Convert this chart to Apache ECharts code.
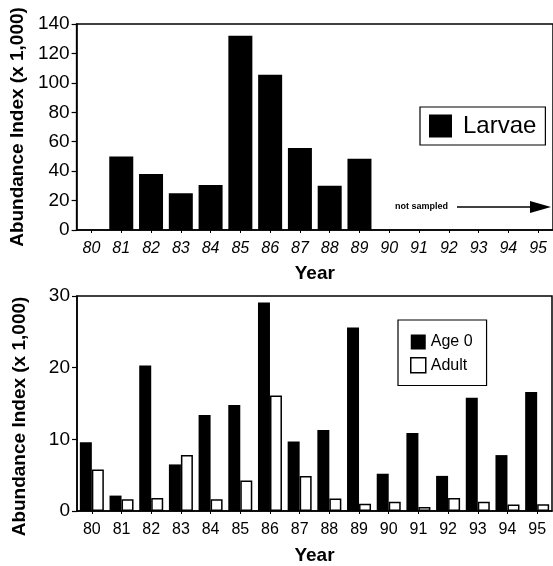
<!DOCTYPE html>
<html>
<head>
<meta charset="utf-8">
<script src="https://cdn.jsdelivr.net/npm/echarts@6/dist/echarts.min.js"></script>
<style>
html,body{margin:0;padding:0;background:#fff;}
#c{width:553px;height:566px;}
</style>
</head>
<body>
<div id="c"></div>
<script>
// ---- data ----
const years = ['80','81','82','83','84','85','86','87','88','89','90','91','92','93','94','95'];
const larvae = [null, 50, 38, 25, 30.5, 132, 105.5, 55.7, 30, 48.5, null, null, null, null, null, null];
const age0 = [9.6, 2.15, 20.3, 6.5, 13.4, 14.8, 29.1, 9.7, 11.3, 25.6, 5.2, 10.9, 4.9, 15.8, 7.8, 16.6];
const adult = [5.8, 1.65, 1.8, 7.8, 1.65, 4.25, 16.1, 4.9, 1.75, 1.0, 1.3, 0.55, 1.8, 1.3, 0.9, 0.95];
const topTicks = [0, 20, 40, 60, 80, 100, 120, 140];
const bottomTicks = [0, 10, 20, 30];

const FONT = '"Liberation Sans", Arial, Helvetica, sans-serif';
const chart = echarts.init(document.getElementById('c'), null, {renderer: 'canvas'});

function yAxisCfg(gridIndex, ticks, gap, pad) {
  return {
    type: 'value', gridIndex: gridIndex,
    min: ticks[0], max: ticks[ticks.length - 1], interval: ticks[1] - ticks[0],
    name: 'Abundance Index (x 1,000)', nameLocation: 'middle', nameGap: gap,
    nameTextStyle: {fontFamily: FONT, fontSize: 19, fontWeight: 'bold', color: '#000', padding: pad},
    axisLine: {show: true, lineStyle: {color: '#000', width: 1.5}},
    axisTick: {show: true, length: 5, inside: false, lineStyle: {color: '#000', width: 1.2}},
    axisLabel: {fontFamily: FONT, fontSize: 19, color: '#000', margin: 7},
    splitLine: {show: false}
  };
}
function xAxisCfg(gridIndex, italic, gap) {
  return {
    type: 'category', gridIndex: gridIndex, data: years,
    name: 'Year', nameLocation: 'middle', nameGap: gap,
    nameTextStyle: {fontFamily: FONT, fontSize: 19, fontWeight: 'bold', color: '#000'},
    axisLine: {show: true, lineStyle: {color: '#000', width: 1.5}},
    axisTick: {show: true, alignWithLabel: true, length: 3, lineStyle: {color: '#000', width: 1}},
    axisLabel: {fontFamily: FONT, fontSize: 16, color: '#000', margin: 11, interval: 0,
      fontStyle: italic ? 'italic' : 'normal'},
    splitLine: {show: false}
  };
}

chart.setOption({
  animation: false,
  backgroundColor: '#fff',
  grid: [
    {left: 74, top: 24, width: 482, height: 206, show: true, borderColor: '#000', borderWidth: 1.5, backgroundColor: 'transparent'},
    {left: 77, top: 296, width: 475, height: 218, show: true, borderColor: '#000', borderWidth: 1.5, backgroundColor: 'transparent'}
  ],
  xAxis: [xAxisCfg(0, true, 34), xAxisCfg(1, false, 35)],
  yAxis: [yAxisCfg(0, topTicks, 45, [0, 0, 0, 0]), yAxisCfg(1, bottomTicks, 48, [0, 26, 0, 0])],
  legend: [
    {
      data: ['Larvae'], left: 420, top: 107, orient: 'vertical',
      itemWidth: 23, itemHeight: 23, icon: 'rect',
      padding: [7, 9, 7, 9], borderColor: '#000', borderWidth: 1.2,
      textStyle: {fontFamily: FONT, fontSize: 24, color: '#000', padding: [0, 0, 0, 6]},
      selectedMode: false
    },
    {
      data: [
        {name: 'Age 0', icon: 'rect', itemStyle: {color: '#000', borderWidth: 0}},
        {name: 'Adult', icon: 'rect', itemStyle: {color: '#fff', borderColor: '#000', borderWidth: 1.5}}
      ],
      left: 398, top: 320, orient: 'vertical',
      itemWidth: 15, itemHeight: 15, itemGap: 7,
      padding: [14, 14, 12, 12], borderColor: '#000', borderWidth: 1.2,
      textStyle: {fontFamily: FONT, fontSize: 16, color: '#000', padding: [0, 0, 0, 0]},
      selectedMode: false
    }
  ],
  series: [
    {
      name: 'Larvae', type: 'bar', xAxisIndex: 0, yAxisIndex: 0, data: larvae,
      barWidth: 24, itemStyle: {color: '#000'}
    },
    {
      name: 'Age 0', type: 'bar', xAxisIndex: 1, yAxisIndex: 1, data: age0,
      barWidth: 12, barGap: '0%', itemStyle: {color: '#000'}
    },
    {
      name: 'Adult', type: 'bar', xAxisIndex: 1, yAxisIndex: 1, data: adult,
      barWidth: 12, barGap: '0%', itemStyle: {color: '#fff', borderColor: '#000', borderWidth: 1.5}
    }
  ],
  graphic: [
    {
      type: 'text', left: 395, top: 202,
      style: {text: 'not sampled', fontFamily: FONT, fontSize: 9, fontWeight: 'bold', fill: '#000'}
    },
    {
      type: 'line', shape: {x1: 457, y1: 207, x2: 533, y2: 207},
      style: {stroke: '#000', lineWidth: 1.5}
    },
    {
      type: 'polygon', shape: {points: [[530, 201], [551, 207], [530, 213]]},
      style: {fill: '#000'}
    }
  ]
});
</script>
</body>
</html>
